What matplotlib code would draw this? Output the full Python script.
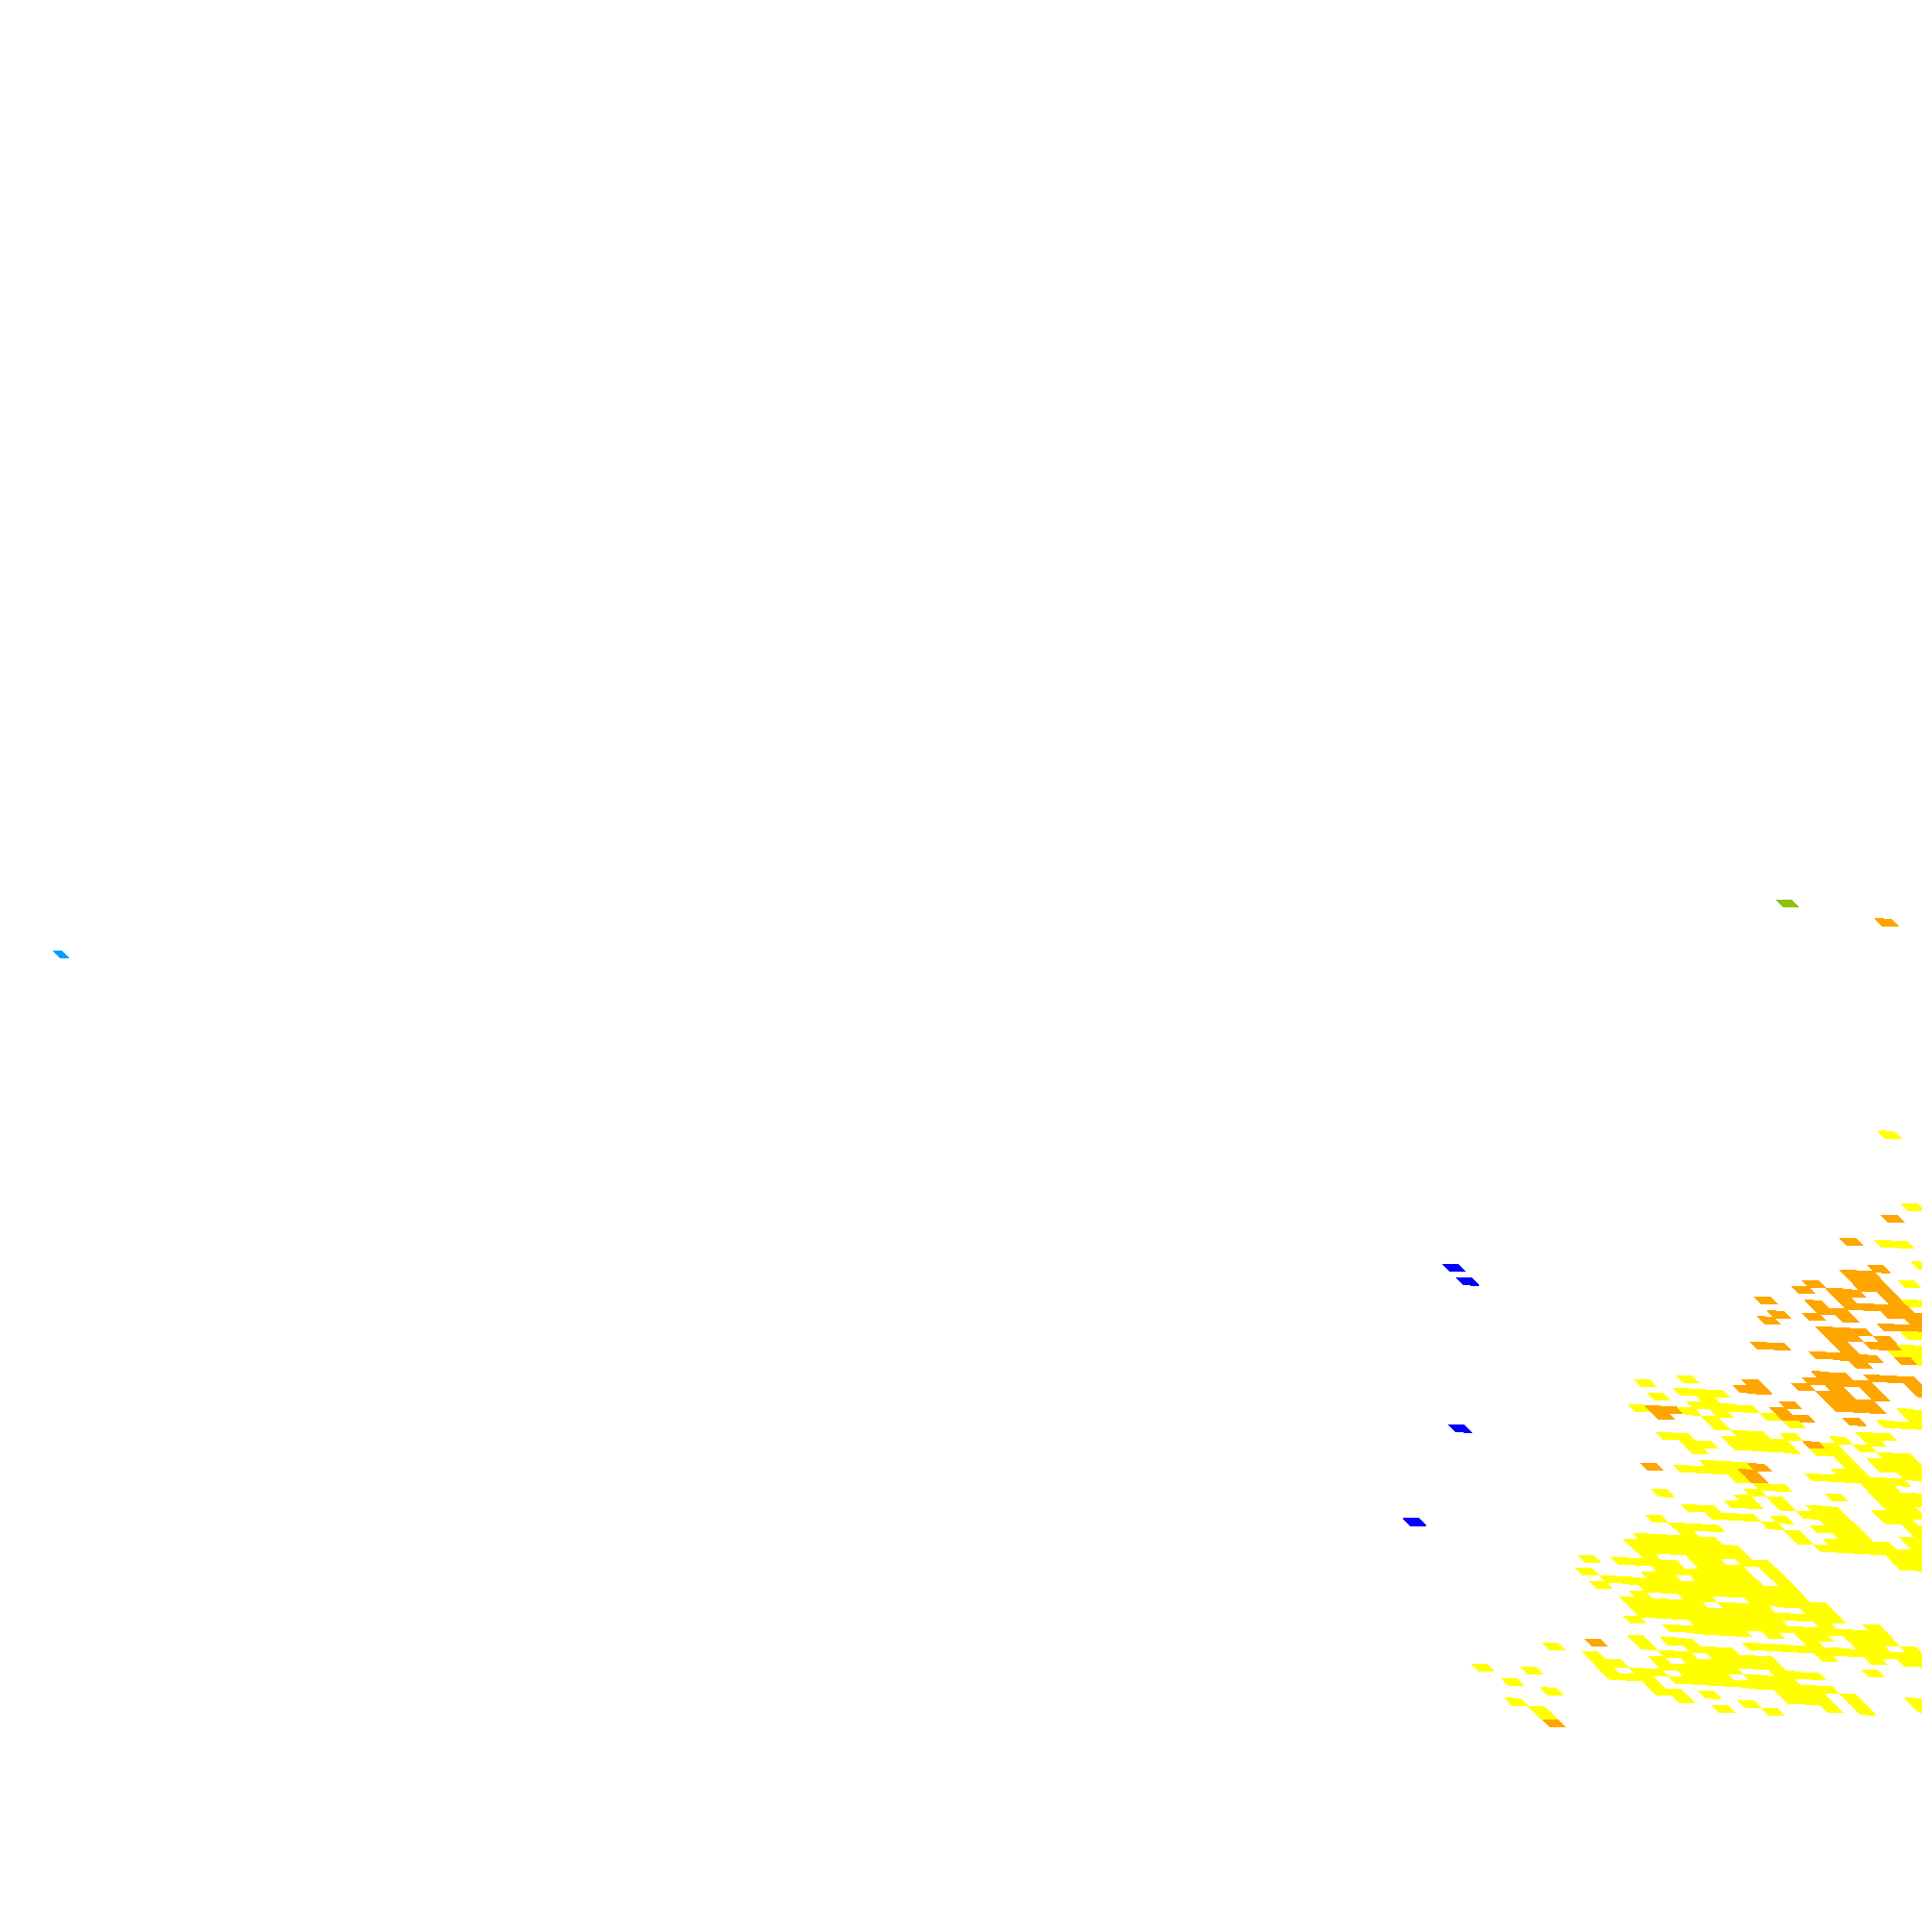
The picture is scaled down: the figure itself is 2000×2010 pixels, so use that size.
import numpy as np, matplotlib
matplotlib.use('Agg')
import matplotlib.pyplot as plt
from matplotlib.colors import ListedColormap, BoundaryNorm

# grid cell values, per grid row: "first-last" or single column numbers
YELLOW = {
-82:"51",-71:"48",-65:"44-45",-62:"45",-59:"43",-56:"42-43",-51:"40-41",-49:"39-40",-48:"38-40",-47:"39",
-42:"23",-41:"20",-40:"22-24",-39:"20 23 35-37",-38:"22-25 35-36",-37:"18 21 23 26 33-36",-36:"22 27 36",
-35:"22 31-32",-34:"23-24 26 29 31",-33:"18-19 22-25 28 30",-32:"19-20 22-25 27-28 31-32",-31:"19 28 30-32",
-30:"28 30-32",-29:"19-21 27-28 31-32",-28:"17-20 25-30",-27:"20 28-29",-26:"21-22 28-31",-25:"20 25 28-32",
-24:"14 19 21 28-29 31-32",-23:"18-19 21 23-24 27-32",-22:"15-16 22-24 27-28 30-32",-21:"16-18 20 23-24 28-31",
-20:"12 19 22-24 28-30",-19:"13-15 20 23-24 27-29",-18:"13 20 22-25 27",-17:"10-14 21-27",-16:"9-15 25-27",
-15:"9-15 25-26",-14:"9 12-13 15-16",-13:"5 7-10 12-14 16",-12:"9-14 16",-11:"4 8-9 11-14 16",-10:"5-16",
-9:"4 7-16",-8:"6 9-10 13-17",-7:"5-9 11-13 16-17",-6:"5-17",-5:"5-13 16 19",-4:"4 8-19",
-3:"6-10 12 14-15 17-19",-2:"14 17-18 20",-1:"3 5-6 10-20",0:"3 6-8 14 17 19-20",1:"-3 4-5 7-10",
2:"-1 3 5-10 16",3:"-1 0 3-7 10-12",4:"-1 1-2 4-6 8-10",5:"-9 -6 -1-1 3-12",6:"1 9-11 13 17",
7:"-8 1-2 4 9-11 13 17",8:"-6 2 6 11 13",9:"4 7",10:"-9",11:"-8",12:"-8",
}
ORANGE = {
-115:"64",-69:"46",-65:"42",-61:"42",-60:"40-41",-59:"40-41",-58:"37 40-41",-57:"36 38-39 41",-56:"38 41",
-55:"33 36 38-41",-54:"36-37 40-42",-53:"33 35 37 41-42",-52:"32 39-42",-51:"35-37",-50:"35-36 38",-49:"35 37-38",
-48:"30-31 35",-47:"33-36 38",-46:"35",-44:"32-33 35-37",-43:"31-34 37",-42:"27 30 32 34 37",-41:"26-27 31-32 34",
-40:"31-33",-39:"28 31-33",-38:"27",-37:"19-20 27-28 31",-36:"19",-33:"27",-29:"22",-28:"15 21",-27:"21",
0:"0",13:"-8",
}
BLUE = [(15,-57),(15,-55),(5,-32),(-4,-17)]
SKY = [(-68,-90)]
GREEN = [(59,-117)]

COLOURS = ['#0000ff','#00a0ff','#90c010','#ffff00','#ffa500']

def cols(s):
    out=[]
    for t in s.split():
        if '-' in t[1:]:
            i=t[1:].index('-')+1
            out+=list(range(int(t[:i]),int(t[i+1:])+1))
        else:
            out.append(int(t))
    return out

jmin,jmax,kmin,kmax=-75,75,-125,20
C=np.full((kmax-kmin,jmax-jmin),np.nan)
for d,v in ((YELLOW,4),(ORANGE,5)):
    for k,s in d.items():
        for j in cols(s):
            C[k-kmin,j-jmin]=v
for lst,v in ((BLUE,1),(SKY,2),(GREEN,3)):
    for j,k in lst:
        C[k-kmin,j-jmin]=v

J,K=np.meshgrid(np.arange(jmin,jmax+1),np.arange(kmin,kmax+1))
X=1649+17.1*J+7.1*K+0.7*np.maximum(J-30,0)+0.0618*np.minimum(J+10,0)**2
Y=1705+1.1*J+7.13*K

fig=plt.figure(figsize=(20,20.1),dpi=100)
ax=fig.add_axes([0,0,1,1])
ax.pcolormesh(X,Y,np.ma.masked_invalid(C),cmap=ListedColormap(COLOURS),
              norm=BoundaryNorm([0.5,1.5,2.5,3.5,4.5,5.5],5),antialiased=False,linewidth=0)
ax.set_xlim(0,2000);ax.set_ylim(2010,0);ax.axis('off')
fig.savefig('out.png',dpi=100)
